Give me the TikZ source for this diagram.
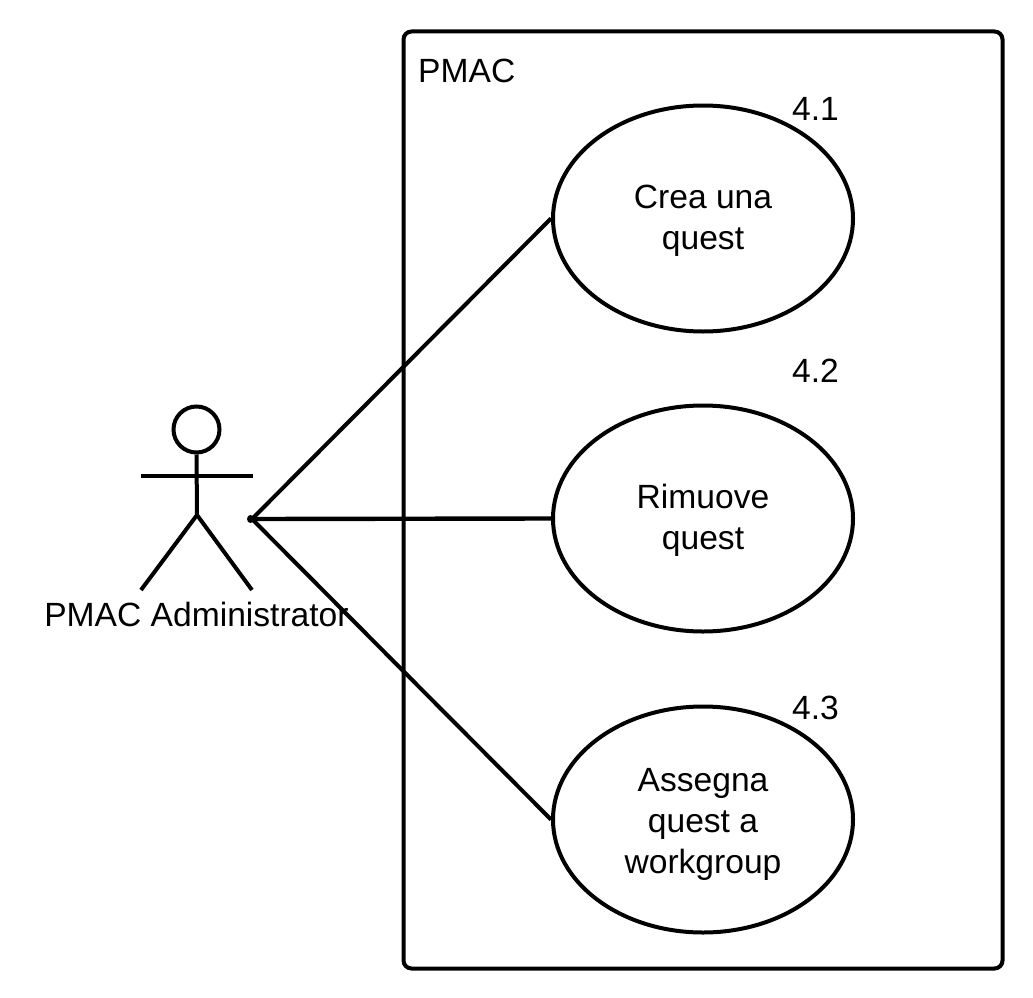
\documentclass[tikz,border=0pt]{standalone}
\usepackage{fontspec}
\setmainfont{Liberation Sans}
\usetikzlibrary{shapes.geometric}
\tikzset{
  line/.style={draw=black,line width=4pt},
  usecase/.style={line,ellipse,minimum width=300pt,minimum height=226pt,inner sep=0pt},
  lbl/.style={font=\fontsize{33.6}{41}\selectfont,inner sep=0pt},
  uctext/.style={lbl,align=center},
}
\begin{document}
\begin{tikzpicture}[x=1pt,y=-1pt]
\useasboundingbox (0,0) rectangle (1033,998);
\node[line,rounded corners=8pt,minimum width=599pt,minimum height=937pt,inner sep=0pt] (sys) at (703,500) {};
\node[lbl,anchor=west] (title) at (418,71) {PMAC};
\node[usecase] (uc1) at (703,218.5) {};
\node[usecase] (uc2) at (703,518.5) {};
\node[usecase] (uc3) at (703,819.5) {};
\node[uctext] (t1) at (703,220.5) {Crea una\\quest};
\node[uctext] (t2) at (703,520.5) {Rimuove\\quest};
\node[uctext] (t3) at (703,824) {Assegna\\quest a\\workgroup};
\node[lbl] (n1) at (815.5,109) {4.1};
\node[lbl] (n2) at (815.5,371) {4.2};
\node[lbl] (n3) at (815.5,708) {4.3};
\node[line,circle,minimum size=46pt,inner sep=0pt] (head) at (196.5,429.5) {};
\coordinate (hip) at (197,515);
\coordinate (armL) at (141,475.5);
\coordinate (armR) at (253,475.5);
\coordinate (footL) at (141,590);
\coordinate (footR) at (252,590);
\draw[line] (head.south) -- (hip);
\draw[line] (armL) -- (armR);
\draw[line,line join=round] (footL) -- (hip) -- (footR);
\node[lbl] (actor) at (196.5,614) {PMAC Administrator};
\coordinate (port) at (252,519);
\fill (250.5,519) ellipse (3.5pt and 4pt);
\draw[line] (port) -- (uc1.west);
\draw[line,line width=4.4pt] (port) -- (uc2.west);
\draw[line] (port) -- (uc3.west);
\end{tikzpicture}
\end{document}
